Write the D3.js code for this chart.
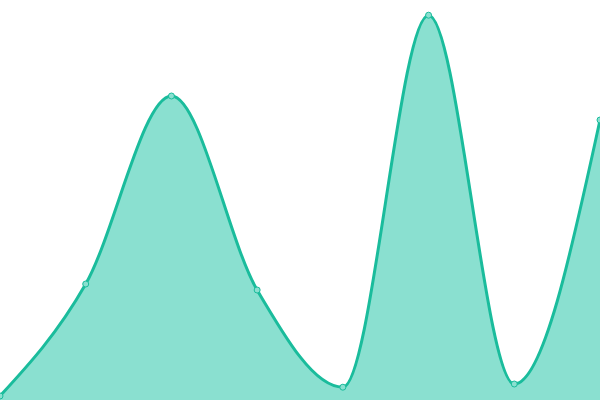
<!DOCTYPE html>
<html>
<head>
<meta charset="utf-8">
<script src="https://cdn.jsdelivr.net/npm/d3@7"></script>
<style>
  html, body { margin: 0; padding: 0; background: #fff; }
  svg { display: block; }
</style>
</head>
<body>
<svg id="chart"></svg>
<script>
const categories = ["A", "B", "C", "D", "E", "F", "G", "H"];
const values = [1, 29, 76, 27.5, 3.2, 96.2, 4, 70];

const width = 600;
const height = 400;

const svg = d3.select("#chart").attr("width", width).attr("height", height);

const x = d3.scalePoint().domain(categories).range([0, width]);
const y = d3.scaleLinear().domain([0, 100]).range([height, 0]);

const data = categories.map((c, i) => ({ c, v: values[i] }));

const area = d3.area()
  .curve(d3.curveMonotoneX)
  .x(d => x(d.c))
  .y0(height)
  .y1(d => y(d.v));

const line = d3.line()
  .curve(d3.curveMonotoneX)
  .x(d => x(d.c))
  .y(d => y(d.v));

svg.append("path").datum(data)
  .attr("fill", "#8ae0d0")
  .attr("d", area);

svg.append("path").datum(data)
  .attr("fill", "none")
  .attr("stroke", "#1abc9c")
  .attr("stroke-width", 3)
  .attr("d", line);

svg.selectAll("circle").data(data).join("circle")
  .attr("cx", d => x(d.c))
  .attr("cy", d => y(d.v))
  .attr("r", 3)
  .attr("fill", "#8ae0d0")
  .attr("stroke", "#1abc9c")
  .attr("stroke-width", 1);
</script>
</body>
</html>
